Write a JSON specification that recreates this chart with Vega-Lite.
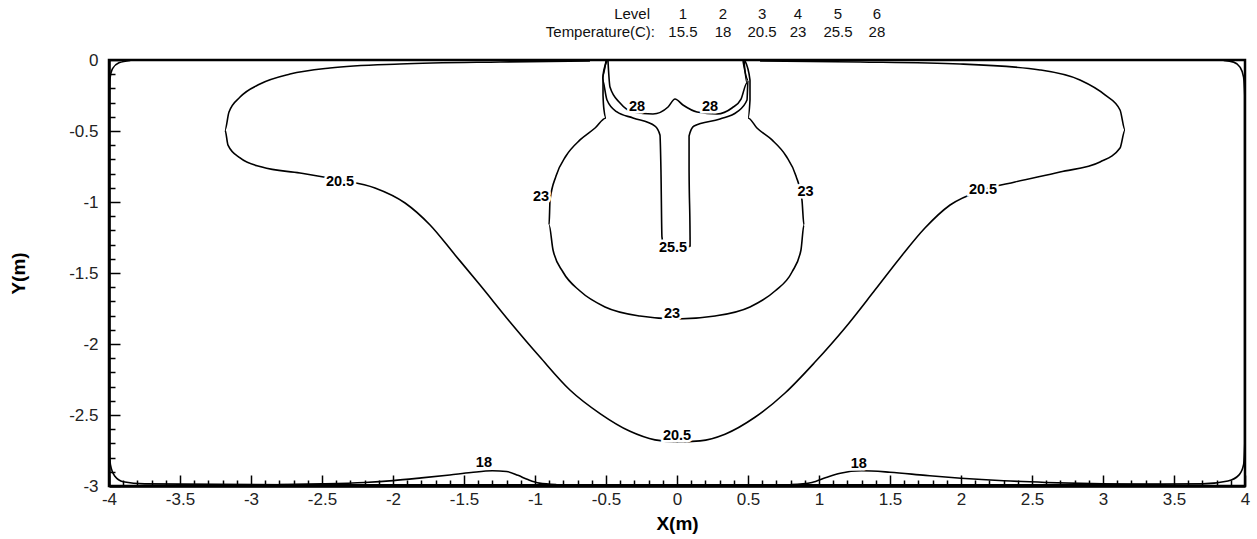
{
  "$schema": "https://vega.github.io/schema/vega-lite/v6.json",
  "width": 1136,
  "height": 426,
  "autosize": {"type": "none"},
  "padding": {"left": 109, "top": 60, "right": 12, "bottom": 53},
  "background": "white",
  "config": {
    "view": {"stroke": "black", "strokeWidth": 2.5},
    "font": "Liberation Sans"
  },
  "datasets": {
    "contours": [
      {"level": "15.5", "seg": "w", "ord": 1, "x": -3.85, "y": -0.003},
      {"level": "15.5", "seg": "w", "ord": 2, "x": -3.93, "y": -0.02},
      {"level": "15.5", "seg": "w", "ord": 3, "x": -3.975, "y": -0.06},
      {"level": "15.5", "seg": "w", "ord": 4, "x": -3.993, "y": -0.13},
      {"level": "15.5", "seg": "w", "ord": 5, "x": -3.997, "y": -0.25},
      {"level": "15.5", "seg": "w", "ord": 6, "x": -3.997, "y": -2.75},
      {"level": "15.5", "seg": "w", "ord": 7, "x": -3.99, "y": -2.85},
      {"level": "15.5", "seg": "w", "ord": 8, "x": -3.96, "y": -2.93},
      {"level": "15.5", "seg": "w", "ord": 9, "x": -3.9, "y": -2.97},
      {"level": "15.5", "seg": "w", "ord": 10, "x": -3.75, "y": -2.985},
      {"level": "15.5", "seg": "w", "ord": 11, "x": -2.5, "y": -2.992},
      {"level": "15.5", "seg": "w", "ord": 12, "x": 2.5, "y": -2.992},
      {"level": "15.5", "seg": "w", "ord": 13, "x": 3.7, "y": -2.985},
      {"level": "15.5", "seg": "w", "ord": 14, "x": 3.88, "y": -2.965},
      {"level": "15.5", "seg": "w", "ord": 15, "x": 3.96, "y": -2.92},
      {"level": "15.5", "seg": "w", "ord": 16, "x": 3.99, "y": -2.85},
      {"level": "15.5", "seg": "w", "ord": 17, "x": 3.997, "y": -2.7},
      {"level": "15.5", "seg": "w", "ord": 18, "x": 3.997, "y": -0.25},
      {"level": "15.5", "seg": "w", "ord": 19, "x": 3.99, "y": -0.12},
      {"level": "15.5", "seg": "w", "ord": 20, "x": 3.965, "y": -0.05},
      {"level": "15.5", "seg": "w", "ord": 21, "x": 3.92, "y": -0.015},
      {"level": "15.5", "seg": "w", "ord": 22, "x": 3.85, "y": -0.003},

      {"level": "18", "seg": "18L", "ord": 1, "x": -2.8, "y": -2.99},
      {"level": "18", "seg": "18L", "ord": 2, "x": -2.5, "y": -2.985},
      {"level": "18", "seg": "18L", "ord": 3, "x": -2.2, "y": -2.975},
      {"level": "18", "seg": "18L", "ord": 4, "x": -2.0, "y": -2.962},
      {"level": "18", "seg": "18L", "ord": 5, "x": -1.8, "y": -2.943},
      {"level": "18", "seg": "18L", "ord": 6, "x": -1.6, "y": -2.922},
      {"level": "18", "seg": "18L", "ord": 7, "x": -1.45, "y": -2.905},
      {"level": "18", "seg": "18L", "ord": 8, "x": -1.3, "y": -2.893},
      {"level": "18", "seg": "18L", "ord": 9, "x": -1.2, "y": -2.898},
      {"level": "18", "seg": "18L", "ord": 10, "x": -1.12, "y": -2.925},
      {"level": "18", "seg": "18L", "ord": 11, "x": -1.05, "y": -2.955},
      {"level": "18", "seg": "18L", "ord": 12, "x": -0.97, "y": -2.98},
      {"level": "18", "seg": "18L", "ord": 13, "x": -0.85, "y": -2.99},

      {"level": "18", "seg": "18R", "ord": 1, "x": 0.8, "y": -2.99},
      {"level": "18", "seg": "18R", "ord": 2, "x": 0.95, "y": -2.975},
      {"level": "18", "seg": "18R", "ord": 3, "x": 1.05, "y": -2.94},
      {"level": "18", "seg": "18R", "ord": 4, "x": 1.15, "y": -2.91},
      {"level": "18", "seg": "18R", "ord": 5, "x": 1.3, "y": -2.893},
      {"level": "18", "seg": "18R", "ord": 6, "x": 1.5, "y": -2.903},
      {"level": "18", "seg": "18R", "ord": 7, "x": 1.75, "y": -2.925},
      {"level": "18", "seg": "18R", "ord": 8, "x": 2.0, "y": -2.945},
      {"level": "18", "seg": "18R", "ord": 9, "x": 2.3, "y": -2.963},
      {"level": "18", "seg": "18R", "ord": 10, "x": 2.6, "y": -2.975},
      {"level": "18", "seg": "18R", "ord": 11, "x": 3.0, "y": -2.985},
      {"level": "18", "seg": "18R", "ord": 12, "x": 3.4, "y": -2.99},

      {"level": "20.5", "seg": "20", "ord": 1, "x": -0.613, "y": -0.007},
      {"level": "20.5", "seg": "20", "ord": 2, "x": -1.246, "y": -0.014},
      {"level": "20.5", "seg": "20", "ord": 3, "x": -1.951, "y": -0.028},
      {"level": "20.5", "seg": "20", "ord": 4, "x": -2.444, "y": -0.056},
      {"level": "20.5", "seg": "20", "ord": 5, "x": -2.725, "y": -0.099},
      {"level": "20.5", "seg": "20", "ord": 6, "x": -2.937, "y": -0.169},
      {"level": "20.5", "seg": "20", "ord": 7, "x": -3.077, "y": -0.261},
      {"level": "20.5", "seg": "20", "ord": 8, "x": -3.155, "y": -0.366},
      {"level": "20.5", "seg": "20", "ord": 9, "x": -3.183, "y": -0.493},
      {"level": "20.5", "seg": "20", "ord": 10, "x": -3.162, "y": -0.599},
      {"level": "20.5", "seg": "20", "ord": 11, "x": -3.077, "y": -0.69},
      {"level": "20.5", "seg": "20", "ord": 12, "x": -2.923, "y": -0.754},
      {"level": "20.5", "seg": "20", "ord": 13, "x": -2.655, "y": -0.796},
      {"level": "20.5", "seg": "20", "ord": 14, "x": -2.373, "y": -0.845},
      {"level": "20.5", "seg": "20", "ord": 15, "x": -2.127, "y": -0.901},
      {"level": "20.5", "seg": "20", "ord": 16, "x": -1.915, "y": -1.007},
      {"level": "20.5", "seg": "20", "ord": 17, "x": -1.739, "y": -1.162},
      {"level": "20.5", "seg": "20", "ord": 18, "x": -1.563, "y": -1.373},
      {"level": "20.5", "seg": "20", "ord": 19, "x": -1.387, "y": -1.585},
      {"level": "20.5", "seg": "20", "ord": 20, "x": -1.176, "y": -1.845},
      {"level": "20.5", "seg": "20", "ord": 21, "x": -0.965, "y": -2.092},
      {"level": "20.5", "seg": "20", "ord": 22, "x": -0.754, "y": -2.324},
      {"level": "20.5", "seg": "20", "ord": 23, "x": -0.542, "y": -2.49},
      {"level": "20.5", "seg": "20", "ord": 24, "x": -0.331, "y": -2.615},
      {"level": "20.5", "seg": "20", "ord": 25, "x": -0.155, "y": -2.675},
      {"level": "20.5", "seg": "20", "ord": 26, "x": 0.0, "y": -2.69},
      {"level": "20.5", "seg": "20", "ord": 27, "x": 0.162, "y": -2.682},
      {"level": "20.5", "seg": "20", "ord": 28, "x": 0.338, "y": -2.635},
      {"level": "20.5", "seg": "20", "ord": 29, "x": 0.549, "y": -2.516},
      {"level": "20.5", "seg": "20", "ord": 30, "x": 0.761, "y": -2.345},
      {"level": "20.5", "seg": "20", "ord": 31, "x": 0.972, "y": -2.127},
      {"level": "20.5", "seg": "20", "ord": 32, "x": 1.183, "y": -1.887},
      {"level": "20.5", "seg": "20", "ord": 33, "x": 1.394, "y": -1.62},
      {"level": "20.5", "seg": "20", "ord": 34, "x": 1.57, "y": -1.394},
      {"level": "20.5", "seg": "20", "ord": 35, "x": 1.746, "y": -1.183},
      {"level": "20.5", "seg": "20", "ord": 36, "x": 1.923, "y": -1.021},
      {"level": "20.5", "seg": "20", "ord": 37, "x": 2.155, "y": -0.915},
      {"level": "20.5", "seg": "20", "ord": 38, "x": 2.38, "y": -0.859},
      {"level": "20.5", "seg": "20", "ord": 39, "x": 2.697, "y": -0.789},
      {"level": "20.5", "seg": "20", "ord": 40, "x": 2.979, "y": -0.718},
      {"level": "20.5", "seg": "20", "ord": 41, "x": 3.12, "y": -0.62},
      {"level": "20.5", "seg": "20", "ord": 42, "x": 3.155, "y": -0.493},
      {"level": "20.5", "seg": "20", "ord": 43, "x": 3.12, "y": -0.352},
      {"level": "20.5", "seg": "20", "ord": 44, "x": 3.014, "y": -0.246},
      {"level": "20.5", "seg": "20", "ord": 45, "x": 2.838, "y": -0.141},
      {"level": "20.5", "seg": "20", "ord": 46, "x": 2.556, "y": -0.07},
      {"level": "20.5", "seg": "20", "ord": 47, "x": 1.993, "y": -0.028},
      {"level": "20.5", "seg": "20", "ord": 48, "x": 1.289, "y": -0.014},
      {"level": "20.5", "seg": "20", "ord": 49, "x": 0.585, "y": -0.007},

      {"level": "23", "seg": "23", "ord": 1, "x": -0.493, "y": -0.007},
      {"level": "23", "seg": "23", "ord": 2, "x": -0.521, "y": -0.106},
      {"level": "23", "seg": "23", "ord": 3, "x": -0.521, "y": -0.246},
      {"level": "23", "seg": "23", "ord": 4, "x": -0.514, "y": -0.352},
      {"level": "23", "seg": "23", "ord": 5, "x": -0.5, "y": -0.408},
      {"level": "23", "seg": "23", "ord": 6, "x": -0.577, "y": -0.479},
      {"level": "23", "seg": "23", "ord": 7, "x": -0.683, "y": -0.563},
      {"level": "23", "seg": "23", "ord": 8, "x": -0.782, "y": -0.676},
      {"level": "23", "seg": "23", "ord": 9, "x": -0.852, "y": -0.817},
      {"level": "23", "seg": "23", "ord": 10, "x": -0.894, "y": -0.986},
      {"level": "23", "seg": "23", "ord": 11, "x": -0.901, "y": -1.162},
      {"level": "23", "seg": "23", "ord": 12, "x": -0.873, "y": -1.338},
      {"level": "23", "seg": "23", "ord": 13, "x": -0.803, "y": -1.493},
      {"level": "23", "seg": "23", "ord": 14, "x": -0.683, "y": -1.627},
      {"level": "23", "seg": "23", "ord": 15, "x": -0.507, "y": -1.739},
      {"level": "23", "seg": "23", "ord": 16, "x": -0.261, "y": -1.803},
      {"level": "23", "seg": "23", "ord": 17, "x": 0.0, "y": -1.824},
      {"level": "23", "seg": "23", "ord": 18, "x": 0.268, "y": -1.803},
      {"level": "23", "seg": "23", "ord": 19, "x": 0.514, "y": -1.739},
      {"level": "23", "seg": "23", "ord": 20, "x": 0.69, "y": -1.627},
      {"level": "23", "seg": "23", "ord": 21, "x": 0.81, "y": -1.493},
      {"level": "23", "seg": "23", "ord": 22, "x": 0.873, "y": -1.338},
      {"level": "23", "seg": "23", "ord": 23, "x": 0.894, "y": -1.162},
      {"level": "23", "seg": "23", "ord": 24, "x": 0.88, "y": -0.986},
      {"level": "23", "seg": "23", "ord": 25, "x": 0.838, "y": -0.817},
      {"level": "23", "seg": "23", "ord": 26, "x": 0.768, "y": -0.676},
      {"level": "23", "seg": "23", "ord": 27, "x": 0.669, "y": -0.563},
      {"level": "23", "seg": "23", "ord": 28, "x": 0.563, "y": -0.479},
      {"level": "23", "seg": "23", "ord": 29, "x": 0.5, "y": -0.408},
      {"level": "23", "seg": "23", "ord": 30, "x": 0.514, "y": -0.282},
      {"level": "23", "seg": "23", "ord": 31, "x": 0.514, "y": -0.141},
      {"level": "23", "seg": "23", "ord": 32, "x": 0.479, "y": -0.007},

      {"level": "25.5", "seg": "25", "ord": 1, "x": -0.5, "y": -0.007},
      {"level": "25.5", "seg": "25", "ord": 2, "x": -0.528, "y": -0.127},
      {"level": "25.5", "seg": "25", "ord": 3, "x": -0.493, "y": -0.282},
      {"level": "25.5", "seg": "25", "ord": 4, "x": -0.423, "y": -0.366},
      {"level": "25.5", "seg": "25", "ord": 5, "x": -0.31, "y": -0.408},
      {"level": "25.5", "seg": "25", "ord": 6, "x": -0.155, "y": -0.465},
      {"level": "25.5", "seg": "25", "ord": 7, "x": -0.12, "y": -0.528},
      {"level": "25.5", "seg": "25", "ord": 8, "x": -0.113, "y": -0.775},
      {"level": "25.5", "seg": "25", "ord": 9, "x": -0.106, "y": -1.246},
      {"level": "25.5", "seg": "25", "ord": 10, "x": -0.092, "y": -1.31},
      {"level": "25.5", "seg": "25", "ord": 11, "x": 0.0, "y": -1.338},
      {"level": "25.5", "seg": "25", "ord": 12, "x": 0.092, "y": -1.31},
      {"level": "25.5", "seg": "25", "ord": 13, "x": 0.092, "y": -1.246},
      {"level": "25.5", "seg": "25", "ord": 14, "x": 0.085, "y": -0.775},
      {"level": "25.5", "seg": "25", "ord": 15, "x": 0.085, "y": -0.535},
      {"level": "25.5", "seg": "25", "ord": 16, "x": 0.12, "y": -0.465},
      {"level": "25.5", "seg": "25", "ord": 17, "x": 0.303, "y": -0.415},
      {"level": "25.5", "seg": "25", "ord": 18, "x": 0.423, "y": -0.366},
      {"level": "25.5", "seg": "25", "ord": 19, "x": 0.493, "y": -0.282},
      {"level": "25.5", "seg": "25", "ord": 20, "x": 0.5, "y": -0.141},
      {"level": "25.5", "seg": "25", "ord": 21, "x": 0.465, "y": -0.007},

      {"level": "28", "seg": "28", "ord": 1, "x": -0.486, "y": -0.007},
      {"level": "28", "seg": "28", "ord": 2, "x": -0.472, "y": -0.19},
      {"level": "28", "seg": "28", "ord": 3, "x": -0.401, "y": -0.303},
      {"level": "28", "seg": "28", "ord": 4, "x": -0.31, "y": -0.366},
      {"level": "28", "seg": "28", "ord": 5, "x": -0.169, "y": -0.38},
      {"level": "28", "seg": "28", "ord": 6, "x": -0.063, "y": -0.331},
      {"level": "28", "seg": "28", "ord": 7, "x": -0.014, "y": -0.275},
      {"level": "28", "seg": "28", "ord": 8, "x": 0.042, "y": -0.317},
      {"level": "28", "seg": "28", "ord": 9, "x": 0.141, "y": -0.366},
      {"level": "28", "seg": "28", "ord": 10, "x": 0.282, "y": -0.38},
      {"level": "28", "seg": "28", "ord": 11, "x": 0.387, "y": -0.338},
      {"level": "28", "seg": "28", "ord": 12, "x": 0.451, "y": -0.275},
      {"level": "28", "seg": "28", "ord": 13, "x": 0.493, "y": -0.162},
      {"level": "28", "seg": "28", "ord": 14, "x": 0.472, "y": -0.007}
    ],
    "labels": [
      {"label": "20.5", "x": -2.373, "y": -0.86},
      {"label": "20.5", "x": 2.155, "y": -0.915},
      {"label": "20.5", "x": 0.0, "y": -2.65},
      {"label": "23", "x": -0.957, "y": -0.965},
      {"label": "23", "x": 0.905, "y": -0.93},
      {"label": "23", "x": -0.035, "y": -1.79},
      {"label": "25.5", "x": -0.028, "y": -1.324},
      {"label": "28", "x": -0.282, "y": -0.331},
      {"label": "28", "x": 0.232, "y": -0.331},
      {"label": "18", "x": -1.36, "y": -2.835},
      {"label": "18", "x": 1.28, "y": -2.845}
    ],
    "header": [
      {"text": "Level", "hx": -0.19, "hy": 0.324, "kind": "name"},
      {"text": "Temperature(C):", "hx": -0.155, "hy": 0.197, "kind": "name"},
      {"text": "1", "hx": 0.042, "hy": 0.324, "kind": "value"},
      {"text": "2", "hx": 0.324, "hy": 0.324, "kind": "value"},
      {"text": "3", "hx": 0.599, "hy": 0.324, "kind": "value"},
      {"text": "4", "hx": 0.852, "hy": 0.324, "kind": "value"},
      {"text": "5", "hx": 1.134, "hy": 0.324, "kind": "value"},
      {"text": "6", "hx": 1.408, "hy": 0.324, "kind": "value"},
      {"text": "15.5", "hx": 0.042, "hy": 0.197, "kind": "value"},
      {"text": "18", "hx": 0.324, "hy": 0.197, "kind": "value"},
      {"text": "20.5", "hx": 0.599, "hy": 0.197, "kind": "value"},
      {"text": "23", "hx": 0.852, "hy": 0.197, "kind": "value"},
      {"text": "25.5", "hx": 1.134, "hy": 0.197, "kind": "value"},
      {"text": "28", "hx": 1.408, "hy": 0.197, "kind": "value"}
    ]
  },
  "layer": [
    {
      "data": {"name": "contours"},
      "mark": {"type": "line", "color": "black", "strokeWidth": 1.6, "interpolate": "monotone"},
      "encoding": {
        "x": {
          "field": "x", "type": "quantitative",
          "scale": {"domain": [-4, 4], "nice": false, "zero": false},
          "axis": {
            "title": "X(m)",
            "titleFont": "Liberation Sans", "titleFontSize": 19, "titleFontWeight": "bold", "titleColor": "black",
            "titlePadding": 2,
            "tickCount": 200,
            "values": [-4,-3.9,-3.8,-3.7,-3.6,-3.5,-3.4,-3.3,-3.2,-3.1,-3,-2.9,-2.8,-2.7,-2.6,-2.5,-2.4,-2.3,-2.2,-2.1,-2,-1.9,-1.8,-1.7,-1.6,-1.5,-1.4,-1.3,-1.2,-1.1,-1,-0.9,-0.8,-0.7,-0.6,-0.5,-0.4,-0.3,-0.2,-0.1,0,0.1,0.2,0.3,0.4,0.5,0.6,0.7,0.8,0.9,1,1.1,1.2,1.3,1.4,1.5,1.6,1.7,1.8,1.9,2,2.1,2.2,2.3,2.4,2.5,2.6,2.7,2.8,2.9,3,3.1,3.2,3.3,3.4,3.5,3.6,3.7,3.8,3.9,4],
            "labelExpr": "abs(datum.value*2 - round(datum.value*2)) < 1e-6 ? '' + round(datum.value*10)/10 : ''",
            "labelFont": "Liberation Sans", "labelFontSize": 17, "labelColor": "#222",
            "labelPadding": 16, "labelFlush": false, "labelOverlap": false,
            "grid": false, "domainColor": "black", "domainWidth": 2.5,
            "tickColor": "black", "tickWidth": 1.5,
            "tickSize": {"condition": {"test": "abs(datum.value*2 - round(datum.value*2)) < 1e-6", "value": -11}, "value": -6}
          }
        },
        "y": {
          "field": "y", "type": "quantitative",
          "scale": {"domain": [-3, 0], "nice": false, "zero": false},
          "axis": {
            "title": "Y(m)",
            "titleFont": "Liberation Sans", "titleFontSize": 19, "titleFontWeight": "bold", "titleColor": "black",
            "titlePadding": 40,
            "tickCount": 200,
            "values": [-3,-2.9,-2.8,-2.7,-2.6,-2.5,-2.4,-2.3,-2.2,-2.1,-2,-1.9,-1.8,-1.7,-1.6,-1.5,-1.4,-1.3,-1.2,-1.1,-1,-0.9,-0.8,-0.7,-0.6,-0.5,-0.4,-0.3,-0.2,-0.1,0],
            "labelExpr": "abs(datum.value*2 - round(datum.value*2)) < 1e-6 ? '' + round(datum.value*10)/10 : ''",
            "labelFont": "Liberation Sans", "labelFontSize": 17, "labelColor": "#222",
            "labelPadding": 22, "labelFlush": false, "labelOverlap": false,
            "grid": false, "domainColor": "black", "domainWidth": 2.5,
            "tickColor": "black", "tickWidth": 1.5,
            "tickSize": {"condition": {"test": "abs(datum.value*2 - round(datum.value*2)) < 1e-6", "value": -11}, "value": -6}
          }
        },
        "detail": {"field": "seg"},
        "order": {"field": "ord", "type": "quantitative"}
      }
    },
    {
      "data": {"name": "labels"},
      "mark": {"type": "text", "font": "Liberation Sans", "fontSize": 14.5, "fontWeight": "bold", "stroke": "white", "strokeWidth": 5, "fill": "white"},
      "encoding": {
        "x": {"field": "x", "type": "quantitative"},
        "y": {"field": "y", "type": "quantitative"},
        "text": {"field": "label"}
      }
    },
    {
      "data": {"name": "labels"},
      "mark": {"type": "text", "font": "Liberation Sans", "fontSize": 14.5, "fontWeight": "bold", "color": "black"},
      "encoding": {
        "x": {"field": "x", "type": "quantitative"},
        "y": {"field": "y", "type": "quantitative"},
        "text": {"field": "label"}
      }
    },
    {
      "data": {"name": "header"},
      "transform": [{"filter": "datum.kind == 'name'"}],
      "mark": {"type": "text", "font": "Liberation Sans", "fontSize": 15, "color": "#111", "align": "right"},
      "encoding": {
        "x": {"field": "hx", "type": "quantitative"},
        "y": {"field": "hy", "type": "quantitative"},
        "text": {"field": "text"}
      }
    },
    {
      "data": {"name": "header"},
      "transform": [{"filter": "datum.kind == 'value'"}],
      "mark": {"type": "text", "font": "Liberation Sans", "fontSize": 15, "color": "#111", "align": "center"},
      "encoding": {
        "x": {"field": "hx", "type": "quantitative"},
        "y": {"field": "hy", "type": "quantitative"},
        "text": {"field": "text"}
      }
    }
  ]
}
